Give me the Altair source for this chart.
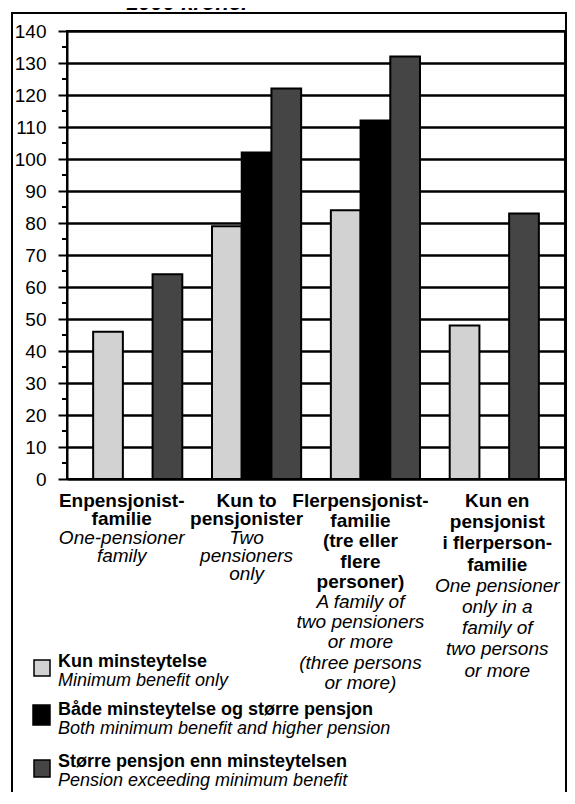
import altair as alt
import pandas as pd

# ---------------- data ----------------
categories = [
    "Enpensjonistfamilie",
    "Kun to pensjonister",
    "Flerpensjonistfamilie",
    "Kun en pensjonist i flerpersonfamilie",
]
series = [
    "Kun minsteytelse",
    "Både minsteytelse og større pensjon",
    "Større pensjon enn minsteytelsen",
]
series_en = [
    "Minimum benefit only",
    "Both minimum benefit and higher pension",
    "Pension exceeding minimum benefit",
]
kun_minsteytelse = [46, 79, 84, 48]
baade = [None, 102, 112, None]
stoerre = [64, 122, 132, 83]

y_ticks = list(range(0, 141, 10))
minor_ticks = list(range(5, 140, 10))

labels_no = [
    ["Enpensjonist-", "familie"],
    ["Kun to", "pensjonister"],
    ["Flerpensjonist-", "familie", "(tre eller", "flere", "personer)"],
    ["Kun en", "pensjonist", "i flerperson-", "familie"],
]
labels_en = [
    ["One-pensioner", "family"],
    ["Two", "pensioners", "only"],
    ["A family of", "two pensioners", "or more", "(three persons", "or more)"],
    ["One pensioner", "only in a", "family of", "two persons", "or more"],
]
title_text = "1000 kroner"

# ---------------- styling ----------------
FONT = "Liberation Sans"
colors = ["#d2d2d2", "#000000", "#454545"]
line_heights = [18.3, 18.3, 20.2, 21.2]
label_dx = [-16, -10, -15, 3]

rows = []
for cat, a, b, c in zip(categories, kun_minsteytelse, baade, stoerre):
    for s, v in zip(series, [a, b, c]):
        if v is not None:
            rows.append({"category": cat, "series": s, "value": v})
df = pd.DataFrame(rows)

xscale = alt.Scale(domain=categories, paddingInner=0.25, paddingOuter=0.22)
yscale = alt.Scale(domain=[0, 140], nice=False, zero=True)
color_scale = alt.Scale(domain=series, range=colors)

y_axis = alt.Axis(values=y_ticks, title=None, grid=True, gridColor="black",
                  gridWidth=2.5, gridOpacity=1, domainColor="black", domainWidth=2,
                  tickColor="black", tickWidth=2, tickSize=9,
                  labelFont=FONT, labelFontSize=19, labelColor="black",
                  labelPadding=12)

x_enc = alt.X("category:N", sort=categories, scale=xscale, axis=None)

bars = alt.Chart(df).mark_bar(stroke="black", strokeWidth=2).encode(
    x=x_enc,
    xOffset=alt.XOffset("series:N", sort=series,
                        scale=alt.Scale(domain=series, paddingInner=0, paddingOuter=0)),
    y=alt.Y("value:Q", scale=yscale, axis=y_axis),
    color=alt.Color("series:N", scale=color_scale, legend=None),
)

minor = alt.Chart(pd.DataFrame({"value": minor_ticks})).mark_rule(
    color="black", strokeWidth=2
).encode(
    y=alt.Y("value:Q", scale=yscale, axis=y_axis),
    x=alt.value(-5),
    x2=alt.value(0),
)

border = alt.Chart(pd.DataFrame({"a": [0]})).mark_rect(
    fill="transparent", stroke="black", strokeWidth=2
).encode(
    x=alt.value(-55), x2=alt.value(499), y=alt.value(-18), y2=alt.value(800)
)

title = alt.Chart(pd.DataFrame({"t": [title_text]})).mark_text(
    font=FONT, fontSize=22, fontStyle="italic", fontWeight="bold",
    baseline="alphabetic", align="center", color="black"
).encode(x=alt.value(121), y=alt.value(-21), text="t:N")

layers = [border, bars, minor, title]

# category labels (Norwegian bold, English italic)
first_baseline = 476
for i, cat in enumerate(categories):
    d = pd.DataFrame({
        "category": [cat],
        "no": ["\n".join(labels_no[i])],
        "en": ["\n".join(labels_en[i])],
    })
    lh = line_heights[i]
    base = alt.Chart(d).encode(x=x_enc)
    layers.append(base.mark_text(
        font=FONT, fontSize=19, fontWeight="bold", lineBreak="\n", lineHeight=lh,
        baseline="alphabetic", align="center", dx=label_dx[i], color="black"
    ).encode(y=alt.value(first_baseline), text="no:N"))
    layers.append(base.mark_text(
        font=FONT, fontSize=19, fontStyle="italic", lineBreak="\n", lineHeight=lh,
        baseline="alphabetic", align="center", dx=label_dx[i], color="black"
    ).encode(y=alt.value(first_baseline + lh * len(labels_no[i])), text="en:N"))

# manual legend
swatches = [(-33, -17, 629, 645), (-34, -17, 674, 694), (-33, -17, 729, 746)]
text_base = [636, 684, 736]
for j, s in enumerate(series):
    d = pd.DataFrame({"series": [s], "en": [series_en[j]]})
    x0, x1, y0, y1 = swatches[j]
    layers.append(alt.Chart(d).mark_rect(stroke="black", strokeWidth=1.5).encode(
        x=alt.value(x0), x2=alt.value(x1), y=alt.value(y0), y2=alt.value(y1),
        color=alt.Color("series:N", scale=color_scale, legend=None)))
    layers.append(alt.Chart(d).mark_text(
        font=FONT, fontSize=18, fontWeight="bold", align="left",
        baseline="alphabetic", color="black"
    ).encode(x=alt.value(-9), y=alt.value(text_base[j]), text="series:N"))
    layers.append(alt.Chart(d).mark_text(
        font=FONT, fontSize=18, fontStyle="italic", align="left",
        baseline="alphabetic", color="black"
    ).encode(x=alt.value(-9), y=alt.value(text_base[j] + 19), text="en:N"))

chart = alt.layer(*layers).properties(
    width=498,
    height=448,
    autosize=alt.AutoSizeParams(type="none"),
    padding={"left": 59, "top": 23, "right": 2, "bottom": 313},
    background="white",
).configure_view(stroke="black", strokeWidth=2)

chart.save("out.html", embed_options={"renderer": "svg", "actions": False})
